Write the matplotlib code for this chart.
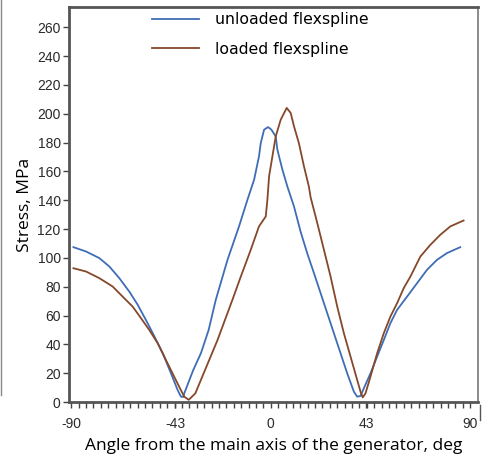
import matplotlib
matplotlib.use("Agg")
import matplotlib.pyplot as plt
import numpy as np
from matplotlib.lines import Line2D

# values
angle_unloaded = [-89, -83.3, -77.3, -72.8, -68.3, -63.8, -60, -56.3, -53.2, -48.7, -45, -42,
                  -40.5, -39.5, -39, -35, -31.5, -28, -24.8, -19.5, -16.5, -14.3, -10.5, -7.5,
                  -5.3, -4.5, -3, -1.2, 0.3, 2.25, 3, 5.3, 7.5, 10.5, 13.5, 16.5, 19.5, 22.5,
                  25.5, 28.5, 31.5, 34.5, 37.5, 39, 40.5, 42, 45, 48, 51, 54, 57, 61.5, 66,
                  70.5, 75, 79.5, 85.5]
stress_unloaded = [107.4, 104.4, 99.8, 94, 85.9, 76.6, 67.4, 56.9, 47.7, 33.8, 19.9, 8.3,
                   3.7, 3.5, 6, 22, 33.8, 50, 70.8, 98.6, 112, 121.8, 140.3, 154.2,
                   170.3, 179.6, 188.9, 190.7, 188.9, 184.2, 175, 161, 149.5, 135.6, 118, 103,
                   89.4, 75.5, 61.6, 47.7, 33.8, 19.9, 7.2, 3.7, 4.2, 9.5, 19.9, 31.5, 43,
                   54.7, 63.9, 73.1, 82.4, 91.7, 98.6, 103.3, 107.4]

angle_loaded = [-89, -83.3, -77.3, -71.3, -66.8, -62.3, -58.5, -54.8, -51, -47.3, -44.3, -41.3,
                -39, -37, -34, -31.5, -24, -17.3, -13.5, -9, -5.3, -2.25, -1.5, -0.75, 0.75,
                2.25, 4.5, 7.2, 9, 10.5, 12.7, 15, 17.2, 18, 21, 24, 27, 30, 33, 36, 39, 40.5,
                41.5, 42.75, 45, 48, 51, 54, 57, 60, 63, 67.5, 72, 76.5, 81, 87]
stress_loaded = [92.8, 90.5, 85.9, 80.1, 73.1, 66.2, 58.1, 50, 40.8, 29.2, 19.9, 10.6,
                 3.7, 1.5, 6, 15.3, 43, 70.8, 87, 105.6, 121.8, 128.7, 140.3, 156.5, 170.3,
                 184.2, 195.8, 204, 200.5, 191.2, 179.6, 163.4, 149.5, 142, 124.1, 105.6, 87,
                 66.2, 47.7, 31.5, 15.3, 7.2, 3.2, 6, 17.6, 33.8, 47.7, 59.3, 68.5, 79, 87,
                 100.9, 109, 116, 121.8, 125.9]

x_ticks = [-90, -43, 0, 43, 90]
y_ticks = list(range(0, 261, 20))

fig = plt.figure(figsize=(4.85, 4.59), dpi=100)
ax = fig.add_axes([69/485, 57/459, 409/485, 395/459])

ax.plot(angle_unloaded, stress_unloaded, color="#3f6db5", lw=1.3, label="unloaded flexspline")
ax.plot(angle_loaded, stress_loaded, color="#85482a", lw=1.3, label="loaded flexspline")

ax.set_xlim(-91, 93.5)
ax.set_ylim(0, 274)
ax.set_xticks(x_ticks)
ax.set_xticks(np.linspace(-90, 90, 55), minor=True)
ax.set_yticks(y_ticks)

tickfont = {"family": "Liberation Sans", "size": 10, "color": "#2a2a2a"}
ax.set_xticklabels([str(t) for t in x_ticks], fontdict=tickfont)
ax.set_yticklabels([str(t) for t in y_ticks], fontdict=tickfont)
ax.tick_params(axis="both", which="both", length=4, width=1, color="#444444", direction="out")
ax.tick_params(axis="x", pad=7)
ax.tick_params(axis="y", pad=2)

for side in ["left", "bottom", "top"]:
    ax.spines[side].set_color("#555555")
    ax.spines[side].set_linewidth(2)
ax.spines["right"].set_color("#777777")
ax.spines["right"].set_linewidth(1.2)

labfont = {"family": "Open Sans", "size": 12.5, "color": "black"}
ax.set_ylabel("Stress, MPa", fontdict=labfont, labelpad=3)
ax.set_xlabel("Angle from the main axis of the generator, deg", fontdict=labfont, labelpad=5)

leg = ax.legend(loc="upper left", bbox_to_anchor=(0.203, 0.987), frameon=False, borderpad=0,
                borderaxespad=0, handlelength=3.0, handletextpad=1.0, labelspacing=0.92,
                prop={"family": "DejaVu Sans", "size": 11.3})

# crop remnants at the picture edges
fig.add_artist(Line2D([1.5/485, 1.5/485], [1 - 0/459, 1 - 395/459], color="#888888", lw=1))
fig.add_artist(Line2D([480/485, 480/485], [1 - 405/459, 1 - 420/459], color="#555555", lw=1))

fig.savefig("out.png", dpi=100)
